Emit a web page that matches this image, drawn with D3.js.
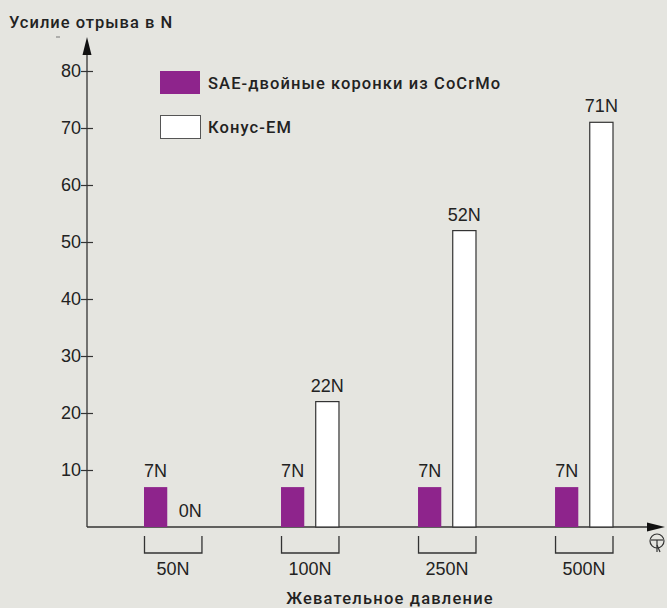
<!DOCTYPE html>
<html><head><meta charset="utf-8">
<script src="https://cdn.jsdelivr.net/npm/d3@7"></script>
<style>
html,body{margin:0;padding:0;background:#e5e5e0;}
svg{display:block;}
</style></head>
<body>
<svg id="c" width="667" height="608"></svg>
<script>
const categories = ["50N", "100N", "250N", "500N"];
const seriesNames = ["SAE-двойные коронки из CoCrMo", "Конус-EM"];
const saeValues = [7, 7, 7, 7];
const konusValues = [0, 22, 52, 71];
const yTicks = [10, 20, 30, 40, 50, 60, 70, 80];
const yTitle = "Усилие отрыва в N";
const xTitle = "Жевательное давление";
const colors = ["#8e248c", "#ffffff"];

const svg = d3.select("#c");
svg.append("rect").attr("width", 667).attr("height", 608).attr("fill", "#e5e5e0");

const axisX = 87, baseY = 527;
const y = d3.scaleLinear().domain([0, 80]).range([baseY, baseY - 456]);
const x = d3.scaleBand().domain(categories).range([144, 613]).paddingInner(0.577).paddingOuter(0);
const xs = d3.scaleBand().domain([0, 1]).range([0, x.bandwidth()]).paddingInner(0.33).paddingOuter(0);

const axisColor = "#333";
const numFont = "'Liberation Sans', Arial, sans-serif";
const lblFont = "Roboto, 'DejaVu Sans', sans-serif";

// Y axis
svg.append("line").attr("x1", axisX).attr("x2", axisX).attr("y1", baseY).attr("y2", 50)
  .attr("stroke", axisColor).attr("stroke-width", 1.3);
svg.append("path").attr("d", `M${axisX},37 L${axisX-4.5},55 L${axisX+4.5},55 Z`).attr("fill", "#111");
const yAxis = d3.axisLeft(y).tickValues(yTicks).tickSize(0).tickPadding(0);
const yg = svg.append("g").attr("transform", `translate(${axisX},0)`).call(yAxis);
yg.select(".domain").remove();
yg.selectAll(".tick line").attr("x1", -6).attr("x2", 6).attr("stroke", axisColor).attr("stroke-width", 1.2);
yg.selectAll(".tick text").attr("x", -6).attr("font-family", numFont).attr("font-size", 18).attr("fill", "#222");

// X axis
svg.append("line").attr("x1", axisX).attr("x2", 652).attr("y1", baseY).attr("y2", baseY)
  .attr("stroke", axisColor).attr("stroke-width", 1.3);
svg.append("path").attr("d", `M665,${baseY} L647,${baseY-4.5} L647,${baseY+4.5} Z`).attr("fill", "#111");
// tooth symbol
const sym = svg.append("g").attr("transform", "translate(657,541)").attr("fill", "none").attr("stroke", "#333").attr("stroke-width", 1.2);
sym.append("circle").attr("r", 7);
sym.append("line").attr("x1", -6).attr("x2", 6).attr("y1", -1).attr("y2", -1);
sym.append("line").attr("x1", 0).attr("x2", 0).attr("y1", -1).attr("y2", 11);
sym.append("line").attr("x1", 0).attr("x2", 3).attr("y1", 4).attr("y2", 11);

// y title
svg.append("text").attr("x", 9).attr("y", 28).text(yTitle)
  .attr("font-family", lblFont).attr("font-weight", 500).attr("font-size", 16.5)
  .attr("letter-spacing", 1).attr("fill", "#222");
svg.append("line").attr("x1", 56).attr("x2", 60).attr("y1", 37).attr("y2", 37).attr("stroke", "#777");

// bars
const data = categories.map((c, i) => ({cat: c, vals: [saeValues[i], konusValues[i]]}));
const groups = svg.selectAll("g.grp").data(data).join("g").attr("class", "grp")
  .attr("transform", d => `translate(${x(d.cat)},0)`);
groups.each(function(d) {
  const g = d3.select(this);
  d.vals.forEach((v, k) => {
    if (v > 0) {
      g.append("rect").attr("x", xs(k)).attr("width", xs.bandwidth())
        .attr("y", y(v)).attr("height", y(0) - y(v))
        .attr("fill", colors[k]).attr("stroke", k === 1 ? "#333" : "none").attr("stroke-width", 1.2);
    }
    g.append("text").attr("x", xs(k) + xs.bandwidth() / 2).attr("y", y(v) - 10)
      .attr("text-anchor", "middle").text(v + "N")
      .attr("font-family", numFont).attr("font-size", 18).attr("fill", "#222");
  });
  // bracket
  const bw = x.bandwidth();
  g.append("path").attr("d", `M0.5,536 L0.5,553 L${bw},553 L${bw},536`)
    .attr("fill", "none").attr("stroke", axisColor).attr("stroke-width", 1.3);
  g.append("text").attr("x", bw / 2).attr("y", 575).attr("text-anchor", "middle").text(d.cat)
    .attr("font-family", numFont).attr("font-size", 18).attr("fill", "#222");
});

// x title
svg.append("text").attr("x", 390).attr("y", 604).attr("text-anchor", "middle").text(xTitle)
  .attr("font-family", lblFont).attr("font-weight", 500).attr("font-size", 16.5)
  .attr("letter-spacing", 1.2).attr("fill", "#222");

// legend
seriesNames.forEach((n, i) => {
  const ly = 71 + i * 44;
  svg.append("rect").attr("x", 160 + (i ? 0.5 : 0)).attr("y", ly + (i ? 0.5 : 0)).attr("width", 40).attr("height", 23)
    .attr("fill", colors[i]).attr("stroke", i ? "#555" : "none").attr("stroke-width", 1);
  svg.append("text").attr("x", 208).attr("y", ly + 18).text(n)
    .attr("font-family", lblFont).attr("font-weight", 500).attr("font-size", 16.5)
    .attr("letter-spacing", 1.1).attr("fill", "#222");
});
</script>
</body></html>
